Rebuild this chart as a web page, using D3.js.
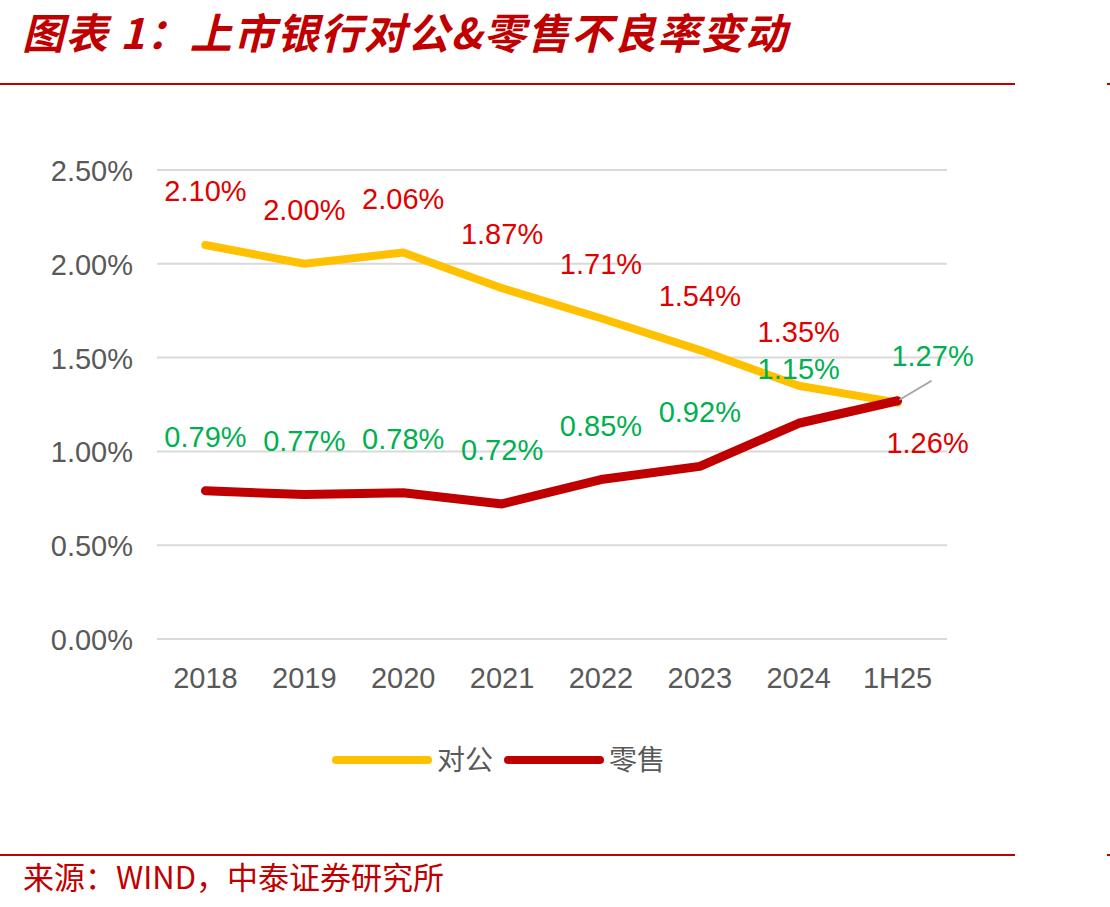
<!DOCTYPE html>
<html>
<head>
<meta charset="utf-8">
<script src="https://cdn.jsdelivr.net/npm/d3@7"></script>
<style>
  body { margin: 0; background: #fff; }
  svg { display: block; }
</style>
</head>
<body>
<svg id="chart" width="1110" height="907"></svg>
<script>
// 数据
const years = ["2018", "2019", "2020", "2021", "2022", "2023", "2024", "1H25"];
const duiGong = [2.10, 2.00, 2.06, 1.87, 1.71, 1.54, 1.35, 1.26];   // 对公
const lingShou = [0.79, 0.77, 0.78, 0.72, 0.85, 0.92, 1.15, 1.27]; // 零售
const yTicks = [0, 0.5, 1.0, 1.5, 2.0, 2.5];

const svg = d3.select("#chart");
const numFont = "'Liberation Sans', Arial, sans-serif";
const cjkFont = "'Noto Sans CJK SC', sans-serif";

// 标题
svg.append("text")
  .attr("x", 22).attr("y", 49)
  .style("font-family", cjkFont)
  .style("font-size", "42px")
  .style("font-weight", "bold")
  .style("font-style", "italic")
  .style("letter-spacing", "1.5px")
  .style("fill", "#C00000")
  .text("图表 1：上市银行对公&零售不良率变动");

svg.append("line").attr("x1", 0).attr("x2", 1015).attr("y1", 84).attr("y2", 84)
  .attr("stroke", "#C00000").attr("stroke-width", 2);
svg.append("line").attr("x1", 0).attr("x2", 1015).attr("y1", 855).attr("y2", 855)
  .attr("stroke", "#C00000").attr("stroke-width", 2);
svg.append("line").attr("x1", 1107).attr("x2", 1110).attr("y1", 84).attr("y2", 84)
  .attr("stroke", "#C00000").attr("stroke-width", 2);
svg.append("line").attr("x1", 1107).attr("x2", 1110).attr("y1", 855).attr("y2", 855)
  .attr("stroke", "#C00000").attr("stroke-width", 2);

// 比例尺
const x = d3.scaleBand().domain(years).range([156, 947]).padding(0);
const cx = d => x(d) + x.bandwidth() / 2;
const y = d3.scaleLinear().domain([0, 2.5]).range([639, 170]);

// 网格线
svg.append("g")
  .selectAll("line")
  .data(yTicks)
  .enter().append("line")
    .attr("x1", 157).attr("x2", 947)
    .attr("y1", d => y(d)).attr("y2", d => y(d))
    .attr("stroke", "#D9D9D9").attr("stroke-width", 2);

// Y轴
const yAxis = svg.append("g")
  .attr("transform", "translate(133,0)")
  .call(d3.axisLeft(y).tickValues(yTicks).tickSize(0).tickPadding(0)
    .tickFormat(d => d.toFixed(2) + "%"));
yAxis.select(".domain").remove();
yAxis.selectAll("text")
  .style("font-family", numFont)
  .style("font-size", "29px")
  .style("fill", "#595959")
  .attr("dy", "0.36em");

// X轴
const xAxis = svg.append("g")
  .attr("transform", "translate(0,667)")
  .call(d3.axisBottom(x).tickSize(0).tickPadding(0));
xAxis.select(".domain").remove();
xAxis.selectAll("text")
  .style("font-family", numFont)
  .style("font-size", "29px")
  .style("fill", "#595959")
  .attr("dy", "0.74em");

// 折线
const line = d3.line().x(d => cx(d.k)).y(d => y(d.v));
const toPts = arr => arr.map((v, i) => ({k: years[i], v: v}));

svg.append("path")
  .datum(toPts(duiGong))
  .attr("d", line)
  .attr("fill", "none")
  .attr("stroke", "#FFC000")
  .attr("stroke-width", 8)
  .attr("stroke-linecap", "round")
  .attr("stroke-linejoin", "round");

svg.append("path")
  .datum(toPts(lingShou))
  .attr("d", line)
  .attr("fill", "none")
  .attr("stroke", "#C00000")
  .attr("stroke-width", 9)
  .attr("stroke-linecap", "round")
  .attr("stroke-linejoin", "round");

// 引导线 (1H25 零售)
const last = years.length - 1;
svg.append("line")
  .attr("x1", cx(years[last]) + 2).attr("y1", y(lingShou[last]) - 1)
  .attr("x2", cx(years[last]) + 34).attr("y2", y(lingShou[last]) - 20)
  .attr("stroke", "#A6A6A6").attr("stroke-width", 2);

// 数据标签
const fmt = v => v.toFixed(2) + "%";
svg.append("g")
  .selectAll("text")
  .data(toPts(duiGong))
  .enter().append("text")
    .attr("x", (d, i) => i === last ? cx(d.k) + 30 : cx(d.k))
    .attr("y", (d, i) => i === last ? y(d.v) + 50 : y(d.v) - 44)
    .attr("text-anchor", "middle")
    .style("font-family", numFont)
    .style("font-size", "29px")
    .style("fill", "#E00000")
    .text(d => fmt(d.v));

svg.append("g")
  .selectAll("text")
  .data(toPts(lingShou))
  .enter().append("text")
    .attr("x", (d, i) => i === last ? cx(d.k) + 35 : cx(d.k))
    .attr("y", (d, i) => i === last ? y(d.v) - 35 : y(d.v) - 44)
    .attr("text-anchor", "middle")
    .style("font-family", numFont)
    .style("font-size", "29px")
    .style("fill", "#00B050")
    .text(d => fmt(d.v));

// 图例
const legend = [
  {name: "对公", color: "#FFC000", x: 336},
  {name: "零售", color: "#C00000", x: 508}
];
const lg = svg.append("g").selectAll("g").data(legend).enter().append("g");
lg.append("line")
  .attr("x1", d => d.x).attr("x2", d => d.x + 92)
  .attr("y1", 760).attr("y2", 760)
  .attr("stroke", d => d.color).attr("stroke-width", 8)
  .attr("stroke-linecap", "round");
lg.append("text")
  .attr("x", d => d.x + 101).attr("y", 760)
  .attr("dy", "0.36em")
  .style("font-family", cjkFont)
  .style("font-size", "28px")
  .style("fill", "#595959")
  .text(d => d.name);

// 来源
svg.append("text")
  .attr("x", 23).attr("y", 889)
  .style("font-family", cjkFont)
  .style("font-size", "31px")
  .style("fill", "#C00000")
  .text("来源：WIND，中泰证券研究所");
</script>
</body>
</html>
